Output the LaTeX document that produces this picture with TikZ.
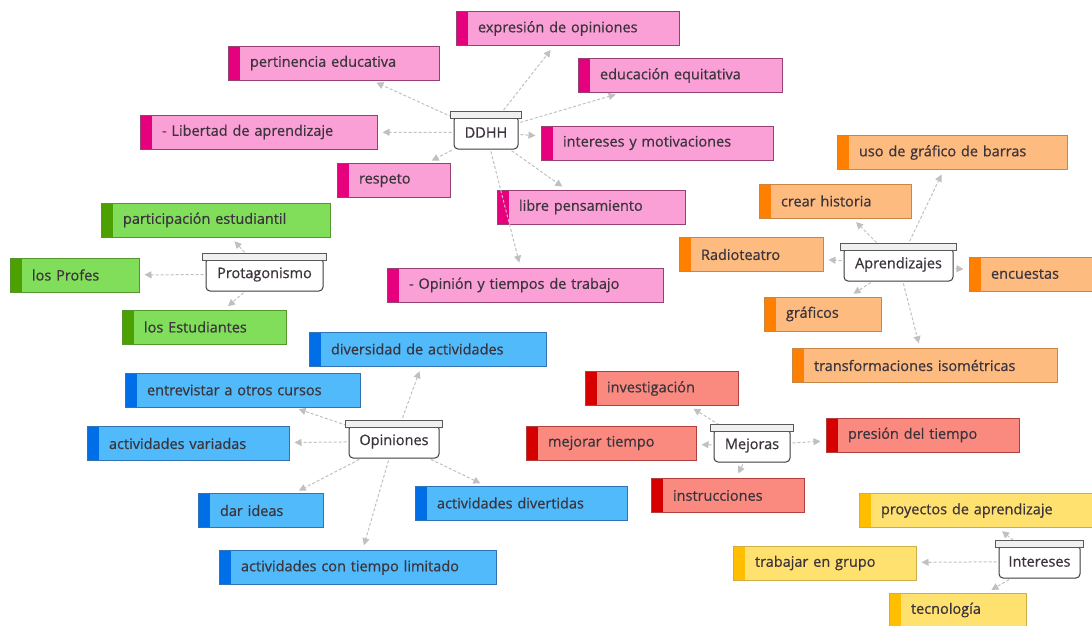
\documentclass[tikz,border=0pt]{standalone}
\usepackage{fontspec}
\setmainfont{Open Sans}[FakeBold=0.6]
\usetikzlibrary{arrows.meta}

\definecolor{ddhhfill}{RGB}{250,160,215}
\definecolor{ddhhbar}{RGB}{230,0,126}
\definecolor{ddhhline}{RGB}{150,65,115}
\definecolor{protafill}{RGB}{128,222,90}
\definecolor{protabar}{RGB}{76,160,0}
\definecolor{protaline}{RGB}{85,150,45}
\definecolor{aprenfill}{RGB}{253,187,128}
\definecolor{aprenbar}{RGB}{255,128,0}
\definecolor{aprenline}{RGB}{200,135,70}
\definecolor{opinfill}{RGB}{80,186,250}
\definecolor{opinbar}{RGB}{0,110,230}
\definecolor{opinline}{RGB}{50,115,180}
\definecolor{mejorfill}{RGB}{250,138,128}
\definecolor{mejorbar}{RGB}{215,0,0}
\definecolor{mejorline}{RGB}{175,65,60}
\definecolor{interfill}{RGB}{255,225,112}
\definecolor{interbar}{RGB}{255,190,0}
\definecolor{interline}{RGB}{205,175,70}
\definecolor{linkgray}{RGB}{192,192,192}
\definecolor{hubline}{RGB}{60,60,60}
\definecolor{lidfill}{RGB}{240,240,240}
\definecolor{boxtext}{RGB}{60,52,60}

\begin{document}
\begin{tikzpicture}[x=1pt,y=-1pt,font=\fontsize{14.5}{17}\selectfont]

%
% Styles
%
\tikzstyle{leaf} = [rectangle,draw=#1line,fill=#1fill,line width=1pt,text=boxtext,
  inner xsep=22pt,inner ysep=0pt,minimum height=34pt,align=left,
  path picture={\fill[#1bar] (path picture bounding box.north west) rectangle ([xshift=12pt]path picture bounding box.south west);}]
\tikzstyle{hub} = [rectangle,draw=hubline,fill=white,line width=1pt,rounded corners=4pt,
  text=boxtext,minimum height=33pt,inner xsep=2pt]
\tikzstyle{lid} = [draw=hubline!85,fill=lidfill,line width=1pt]
\tikzstyle{link} = [-{Triangle[length=7pt,width=7pt]},draw=linkgray,line width=1pt,
  dash pattern=on 3pt off 2pt,shorten >=5pt,shorten <=2pt]

\useasboundingbox (0,0) rectangle (1092,625);

% DDHH
\node[hub,minimum width=64pt] (ddhh) at (486,132.5) {DDHH};
\node[leaf=ddhh,text width=179pt] (expr)  at (567.5,28.5) {expresión de opiniones};
\node[leaf=ddhh,text width=160pt] (equi)  at (680,75.5)   {educación equitativa};
\node[leaf=ddhh,text width=188pt] (motiv) at (657,143)    {intereses y motivaciones};
\node[leaf=ddhh,text width=144pt] (libre) at (591,207)    {libre pensamiento};
\node[leaf=ddhh,text width=232pt] (tiemp) at (525,285)    {- Opinión y tiempos de trabajo};
\node[leaf=ddhh,text width=167pt] (perti) at (333.5,63)   {pertinencia educativa};
\node[leaf=ddhh,text width=193pt] (liber) at (258.5,132)  {- Libertad de aprendizaje};
\node[leaf=ddhh,text width=69pt]  (resp)  at (393.5,180.5) {respeto};

% Protagonismo
\node[hub,minimum width=117pt] (prota) at (264.5,274.5) {Protagonismo};
\node[leaf=prota,text width=185pt] (parti)  at (215.5,220) {participación estudiantil};
\node[leaf=prota,text width=85pt]  (profes) at (74.5,275)  {los Profes};
\node[leaf=prota,text width=120pt] (estud)  at (204,327)   {los Estudiantes};

% Aprendizajes
\node[hub,minimum width=109pt] (apren) at (898.5,264.5) {Aprendizajes};
\node[leaf=apren,text width=186pt] (barras)   at (952,152.5)   {uso de gráfico de barras};
\node[leaf=apren,text width=108pt] (historia) at (835,201)     {crear historia};
\node[leaf=apren,text width=100pt] (radio)    at (751,254.5)   {Radioteatro};
\node[leaf=apren,text width=81pt]  (encu)     at (1031.5,274)  {encuestas};
\node[leaf=apren,text width=73pt]  (graf)     at (822.5,314)   {gráficos};
\node[leaf=apren,text width=221pt] (iso)      at (924.5,365.5) {transformaciones isométricas};

% Opiniones
\node[hub,minimum width=90pt] (opin) at (394,441.5) {Opiniones};
\node[leaf=opin,text width=193pt] (divers) at (427.5,349)   {diversidad de actividades};
\node[leaf=opin,text width=191pt] (entrev) at (242.5,390)   {entrevistar a otros cursos};
\node[leaf=opin,text width=158pt] (variad) at (188,443.5)   {actividades variadas};
\node[leaf=opin,text width=81pt]  (ideas)  at (260.5,510.5) {dar ideas};
\node[leaf=opin,text width=168pt] (divert) at (521,503)     {actividades divertidas};
\node[leaf=opin,text width=233pt] (limit)  at (357.5,567.5) {actividades con tiempo limitado};

% Mejoras
\node[hub,minimum width=76pt] (mejor) at (752,445.5) {Mejoras};
\node[leaf=mejor,text width=109pt] (invest)  at (661.5,388.5) {investigación};
\node[leaf=mejor,text width=126pt] (mejtiem) at (611,443)     {mejorar tiempo};
\node[leaf=mejor,text width=149pt] (presion) at (922.5,435)   {presión del tiempo};
\node[leaf=mejor,text width=109pt] (instr)   at (727.5,495.5) {instrucciones};

% Intereses
\node[hub,minimum width=81pt] (inter) at (1039.5,561.5) {Intereses};
\node[leaf=inter,text width=191pt] (proyec) at (976.5,510.5) {proyectos de aprendizaje};
\node[leaf=inter,text width=139pt] (grupo)  at (824.5,563)   {trabajar en grupo};
\node[leaf=inter,text width=93pt]  (tecno)  at (957.5,610)   {tecnología};

% Links
\draw[link] (ddhh) -- (expr);
\draw[link] (ddhh) -- (equi);
\draw[link] (ddhh) -- (motiv);
\draw[link] (ddhh) -- (libre);
\draw[link] (ddhh) -- (tiemp);
\draw[link] (ddhh) -- (perti);
\draw[link] (ddhh) -- (liber);
\draw[link] (ddhh) -- (resp);
\draw[link] (prota) -- (parti);
\draw[link] (prota) -- (profes);
\draw[link] (prota) -- (estud);
\draw[link] (apren) -- (barras);
\draw[link] (apren) -- (historia);
\draw[link] (apren) -- (radio);
\draw[link] (apren) -- (encu);
\draw[link] (apren) -- (graf);
\draw[link] (apren) -- (iso);
\draw[link] (opin) -- (divers);
\draw[link] (opin) -- (entrev);
\draw[link] (opin) -- (variad);
\draw[link] (opin) -- (ideas);
\draw[link] (opin) -- (divert);
\draw[link] (opin) -- (limit);
\draw[link] (mejor) -- (invest);
\draw[link] (mejor) -- (mejtiem);
\draw[link] (mejor) -- (presion);
\draw[link] (mejor) -- (instr);
\draw[link] (inter) -- (proyec);
\draw[link] (inter) -- (grupo);
\draw[link] (inter) -- (tecno);

% Lids
\draw[lid] ([xshift=-3pt,yshift=-3pt]ddhh.north west) rectangle ([xshift=3pt,yshift=4pt]ddhh.north east);
\draw[lid] ([xshift=-3pt,yshift=-3pt]prota.north west) rectangle ([xshift=3pt,yshift=4pt]prota.north east);
\draw[lid] ([xshift=-3pt,yshift=-3pt]apren.north west) rectangle ([xshift=3pt,yshift=4pt]apren.north east);
\draw[lid] ([xshift=-3pt,yshift=-3pt]opin.north west) rectangle ([xshift=3pt,yshift=4pt]opin.north east);
\draw[lid] ([xshift=-3pt,yshift=-3pt]mejor.north west) rectangle ([xshift=3pt,yshift=4pt]mejor.north east);
\draw[lid] ([xshift=-3pt,yshift=-3pt]inter.north west) rectangle ([xshift=3pt,yshift=4pt]inter.north east);

\end{tikzpicture}
\end{document}
